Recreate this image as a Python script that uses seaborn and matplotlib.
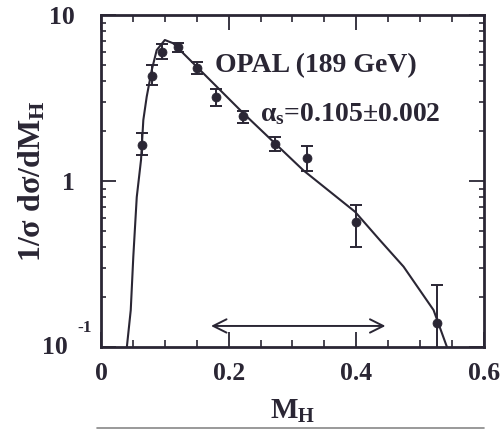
import numpy as np
import pandas as pd
import matplotlib
matplotlib.use("Agg")
import matplotlib.pyplot as plt
import seaborn as sns
from matplotlib.ticker import FixedLocator, LogLocator, NullFormatter, FixedFormatter
from matplotlib.lines import Line2D

# ---- data ----
data_x = [0.064, 0.08, 0.095, 0.12, 0.15, 0.18, 0.222, 0.273, 0.322, 0.40, 0.526]
data_y = [1.65, 4.3, 6.0, 6.4, 4.8, 3.2, 2.45, 1.68, 1.37, 0.57, 0.139]
data_lo = [1.43, 3.8, 5.4, 6.0, 4.4, 2.85, 2.25, 1.52, 1.15, 0.40, 0.08]
data_hi = [1.94, 5.0, 6.7, 6.8, 5.2, 3.6, 2.65, 1.85, 1.62, 0.72, 0.236]

fit_x = [0.0405, 0.0466, 0.0506, 0.056, 0.0627, 0.0663, 0.0716, 0.0795, 0.0873,
         0.100, 0.113, 0.15, 0.223, 0.317, 0.398, 0.437, 0.474, 0.521, 0.542]
fit_y = [0.1, 0.167, 0.35, 0.80, 1.34, 2.33, 3.22, 4.66, 6.15,
         7.07, 6.76, 4.88, 2.56, 1.16, 0.653, 0.44, 0.305, 0.167, 0.1]

fit_range = [0.168, 0.45]
arrow_y = 0.134

xticks = [0, 0.2, 0.4, 0.6]
xticklabels = ["0", "0.2", "0.4", "0.6"]
yticks = [0.1, 1, 10]
yticklabels = ["", "1", "10"]

title_text = "OPAL (189 GeV)"
alpha_text = r"α$_\mathregular{s}$=0.105±0.002"
ylabel = r"1/σ dσ/dM$_\mathregular{H}$"
xlabel = r"M$_\mathregular{H}$"

INK = "#2a2634"

sns.set_theme(style="ticks")
plt.rcParams["font.family"] = ["Liberation Serif", "DejaVu Serif"]
plt.rcParams["mathtext.default"] = "regular"

fig = plt.figure(figsize=(5.04, 4.29), dpi=100)
ax = fig.add_axes([0.2004, 0.191, 0.7599, 0.774])

df_fit = pd.DataFrame({"x": fit_x, "y": fit_y})
df_pts = pd.DataFrame({"x": data_x, "y": data_y})

sns.lineplot(data=df_fit, x="x", y="y", ax=ax, color=INK, linewidth=1.5, sort=False)
yerr = np.array([np.array(data_y) - np.array(data_lo), np.array(data_hi) - np.array(data_y)])
ax.errorbar(data_x, data_y, yerr=yerr, fmt="none", ecolor=INK, elinewidth=1.4,
            capsize=4, capthick=1.4)
sns.scatterplot(data=df_pts, x="x", y="y", ax=ax, color=INK, s=42, edgecolor=INK,
                marker="o", zorder=5)

ax.set_yscale("log")
ax.set_xlim(0, 0.6)
ax.set_ylim(0.1, 10)

ax.annotate("", xy=(fit_range[0], arrow_y), xytext=(fit_range[1], arrow_y),
            arrowprops=dict(arrowstyle="<->", color=INK, lw=1.4, mutation_scale=24))

ax.text(0.179, 4.5, title_text, fontsize=20, fontweight="bold", color=INK,
        ha="left", va="baseline")
ax.text(0.249, 2.3, alpha_text, fontsize=20, fontweight="bold", color=INK,
        ha="left", va="baseline")

ax.xaxis.set_major_locator(FixedLocator(xticks))
ax.xaxis.set_major_formatter(FixedFormatter(xticklabels))
ax.xaxis.set_minor_locator(FixedLocator([0.05, 0.1, 0.15, 0.25, 0.3, 0.35, 0.45, 0.5, 0.55]))
ax.yaxis.set_major_locator(FixedLocator(yticks))
ax.yaxis.set_major_formatter(FixedFormatter(yticklabels))
ax.yaxis.set_minor_locator(LogLocator(base=10, subs=np.arange(2, 10)))
ax.yaxis.set_minor_formatter(NullFormatter())

ax.tick_params(axis="both", which="major", direction="in", length=10.5, width=1.3,
               color=INK, top=True, right=True, labelsize=18.5, labelcolor=INK)
ax.tick_params(axis="x", which="minor", direction="in", length=5, width=1.2,
               color=INK, top=True, bottom=True)
ax.tick_params(axis="y", which="minor", direction="in", length=3.5, width=1.2,
               color=INK, left=True, right=True)
ax.tick_params(axis="y", which="major", pad=19)
ax.tick_params(axis="x", which="major", pad=11)
for lab in ax.get_xticklabels() + ax.get_yticklabels():
    lab.set_fontweight("bold")

for sp in ax.spines.values():
    sp.set_visible(True)
    sp.set_linewidth(2)
    sp.set_color(INK)

# bottom y tick label written as 10 with a raised -1
fig.text(68 / 504, 1 - 347 / 429, "10", fontsize=18.5, fontweight="bold", color=INK,
         ha="right", va="center")
fig.text(77 / 504, 1 - 328 / 429, "-1", fontsize=12.5, fontweight="bold", color=INK,
         ha="left", va="center")

ax.set_xlabel(xlabel, fontsize=21, fontweight="bold", color=INK, labelpad=9)
ax.set_ylabel(ylabel, fontsize=23, fontweight="bold", color=INK, labelpad=4)
ax.yaxis.set_label_coords(-0.141, 0.5)

fig.add_artist(Line2D([97 / 504, 484 / 504], [1 - 428 / 429, 1 - 428 / 429],
                      color="#888888", lw=1.2))

fig.savefig("out.png", dpi=100, facecolor="white")
